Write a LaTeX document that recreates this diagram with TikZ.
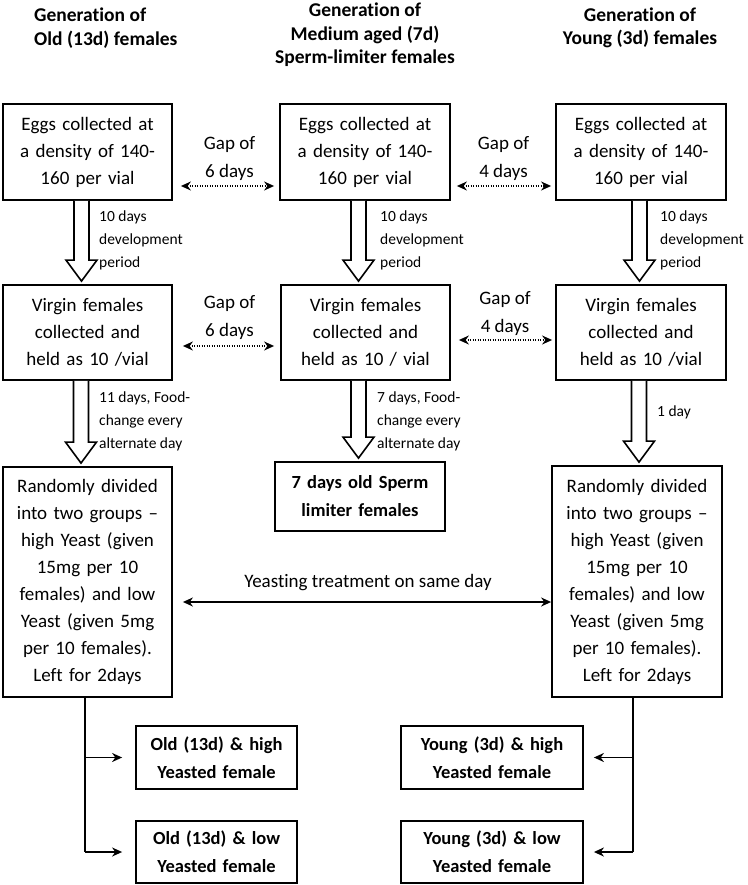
\documentclass[tikz,border=0pt]{standalone}
\usepackage{fontspec}
\setmainfont{Carlito}[Ligatures=NoCommon]
\usetikzlibrary{arrows.meta,calc}
\tikzset{
  box/.style={draw, line width=1.8pt, align=center, inner sep=0pt, text width=#1, minimum width=#1},
  box/.default=169pt,
  maintxt/.style={font=\fontsize{19}{27}\selectfont},
  boldtxt/.style={font=\bfseries\fontsize{18.5}{28}\selectfont},
  hdr/.style={font=\bfseries\fontsize{19.5}{23.5}\selectfont, inner sep=0pt},
  smalltxt/.style={font=\fontsize{15.5}{23}\selectfont, align=left, anchor=west, inner sep=0pt},
  gaptxt/.style={font=\fontsize{19}{28}\selectfont, align=center, inner sep=0pt},
  gaparr/.style={line width=1.5pt, dash pattern=on 1.3pt off 1.2pt, {Stealth[length=10pt,width=9pt]}-{Stealth[length=10pt,width=9pt]}},
  solidarr/.style={line width=1.8pt, -{Stealth[length=10pt,width=9pt]}},
  hollow/.style={line width=1.6pt, fill=white, line join=miter},
}
\newcommand\hollowarr[3]{%
  \path ([xshift=#3]#1.south) coordinate (ha1)
        ([xshift=#3, yshift=3pt]#1.south |- #2.north) coordinate (ha2);
  \draw[hollow] ($(ha1)+(-7.5,0)$) -- ($(ha2)+(-7.5,-21)$) -- ($(ha2)+(-15.5,-21)$)
     -- (ha2) -- ($(ha2)+(15.5,-21)$) -- ($(ha2)+(7.5,-21)$) -- ($(ha1)+(7.5,0)$);}
\begin{document}
\begin{tikzpicture}[x=1pt, y=-1pt]
\useasboundingbox (0,0) rectangle (747,885);

% headers
\node[hdr, align=left, anchor=west] (h1) at (34,28) {Generation of\\Old (13d) females};
\node[hdr, align=center] (h2) at (365,35) {Generation of\\Medium aged (7d)\\Sperm-limiter females};
\node[hdr, align=center] (h3) at (640,28) {Generation of\\Young (3d) females};

% row 1
\node[box, maintxt, minimum height=96pt] (e1) at (87.5,152) {Eggs collected at\\a density of 140-\\160 per vial};
\node[box=170pt, maintxt, minimum height=96pt] (e2) at (365,152) {Eggs collected at\\a density of 140-\\160 per vial};
\node[box=170pt, maintxt, minimum height=96pt] (e3) at (641,152) {Eggs collected at\\a density of 140-\\160 per vial};

% row 2
\node[box, maintxt, minimum height=95pt] (v1) at (87.5,332.5) {Virgin females\\collected and\\held as 10 /vial};
\node[box, maintxt, minimum height=95pt] (v2) at (365.5,332.5) {Virgin females\\collected and\\held as 10 / vial};
\node[box=170pt, maintxt, minimum height=95pt] (v3) at (641,332.5) {Virgin females\\collected and\\held as 10 /vial};

% row 3
\node[box, maintxt, minimum height=230pt] (r1) at (87.5,582) {Randomly divided\\into two groups –\\high Yeast (given\\15mg per 10\\females) and low\\Yeast (given 5mg\\per 10 females).\\Left for 2days};
\node[box=170pt, boldtxt, minimum height=69pt] (s2) at (360,496.5) {7 days old Sperm\\limiter females};
\node[box=170pt, maintxt, minimum height=231pt] (r3) at (637,581.5) {Randomly divided\\into two groups –\\high Yeast (given\\15mg per 10\\females) and low\\Yeast (given 5mg\\per 10 females).\\Left for 2days};

% results
\node[box=161pt, boldtxt, minimum height=63pt] (o1) at (216.5,757.5) {Old (13d) \& high\\Yeasted female};
\node[box=161pt, boldtxt, minimum height=62pt] (o2) at (216.5,852) {Old (13d) \& low\\Yeasted female};
\node[box=182pt, boldtxt, minimum height=63pt] (y1) at (492,757.5) {Young (3d) \& high\\Yeasted female};
\node[box=182pt, boldtxt, minimum height=62pt] (y2) at (492,852) {Young (3d) \& low\\Yeasted female};

% hollow arrows
\hollowarr{e1}{v1}{-6pt}
\hollowarr{e2}{v2}{-6.5pt}
\hollowarr{e3}{v3}{-1.5pt}
\hollowarr{v1}{r1}{-6.5pt}
\hollowarr{v2}{s2}{-7pt}
\hollowarr{v3}{r3}{-2pt}

% small labels
\node[smalltxt] (l1) at (99,240.5) {10 days\\development\\period};
\node[smalltxt] (l2) at (380,240.5) {10 days\\development\\period};
\node[smalltxt] (l3) at (660,240.5) {10 days\\development\\period};
\node[smalltxt] (l4) at (99,421.5) {11 days, Food-\\change every\\alternate day};
\node[smalltxt] (l5) at (377,421.5) {7 days, Food-\\change every\\alternate day};
\node[smalltxt] (l6) at (657,412) {1 day};

% gap labels and dotted arrows
\node[gaptxt] (g1) at (229.5,159) {Gap of\\6 days};
\node[gaptxt] (g2) at (503.5,159) {Gap of\\4 days};
\node[gaptxt] (g3) at (229.5,318) {Gap of\\6 days};
\node[gaptxt] (g4) at (505,314) {Gap of\\4 days};
\coordinate (ya) at (0,186);
\coordinate (yb) at (0,346);
\coordinate (yc) at (0,340);
\draw[gaparr, shorten <=8pt, shorten >=5pt] (e1.east |- ya) -- (e2.west |- ya);
\draw[gaparr, shorten <=6pt, shorten >=4pt] (e2.east |- ya) -- (e3.west |- ya);
\draw[gaparr, shorten <=10pt, shorten >=6pt] (v1.east |- yb) -- (v2.west |- yb);
\draw[gaparr, shorten <=8pt, shorten >=3pt] (v2.east |- yc) -- (v3.west |- yc);

% yeasting treatment
\coordinate (yy) at (0,602);
\draw[line width=1.8pt, {Stealth[length=10pt,width=9pt]}-{Stealth[length=10pt,width=9pt]}, shorten <=10pt] (r1.east |- yy) -- (r3.west |- yy);
\node[gaptxt] (yt) at (368,583) {Yeasting treatment on same day};

% branches
\coordinate (lb) at ([xshift=-2.5pt]r1.south);
\coordinate (rb) at ([xshift=-4pt]r3.south);
\draw[line width=1.8pt] (lb) -- (lb |- o2.west);
\draw[solidarr, shorten >=13pt] (lb |- o1.west) -- (o1.west);
\draw[solidarr, shorten >=13pt] (lb |- o2.west) -- (o2.west);
\draw[line width=1.8pt] (rb) -- (rb |- y2.east);
\draw[solidarr, shorten >=10pt] (rb |- y1.east) -- (y1.east);
\draw[solidarr, shorten >=10pt] (rb |- y2.east) -- (y2.east);
\end{tikzpicture}
\end{document}
